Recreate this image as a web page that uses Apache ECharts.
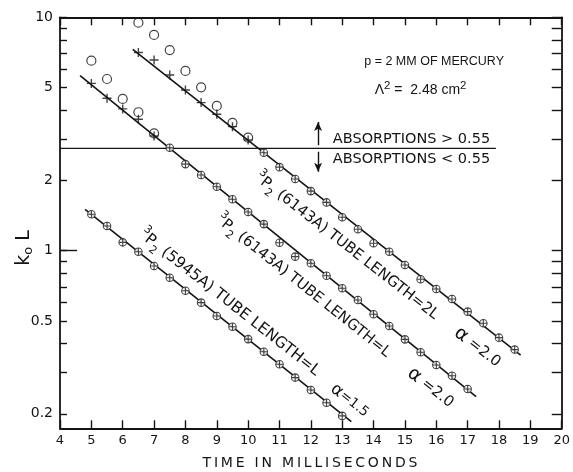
<!DOCTYPE html>
<html><head><meta charset="utf-8">
<script src="https://cdn.jsdelivr.net/npm/echarts@6/dist/echarts.min.js"></script>
<style>html,body{margin:0;padding:0;background:#fff}#c{width:573px;height:472px}</style>
</head><body><div id="c"></div>
<script>
// ---- data ----
const xTicks = [4,5,6,7,8,9,10,11,12,13,14,15,16,17,18,19,20];
const yTickLabels = [0.2, 0.5, 1, 2, 5, 10];
const yMinorTicks = [0.2,0.3,0.4,0.5,0.6,0.7,0.8,0.9,1,2,3,4,5,6,7,8,9,10];
const yMin = 0.1734, yMax = 10;

// 3P2 (6143A) tube length = 2L
const tA = [10.5,11,11.5,12,12.5,13,13.5,14,14.5,15,15.5,16,16.5,17,17.5,18,18.5];
const vA = [2.63,2.28,2.03,1.80,1.61,1.39,1.235,1.076,0.990,0.868,0.754,0.685,0.621,0.548,0.489,0.424,0.377];
const tA_early = [6.5,7,7.5,8,8.5,9,9.5,10];
const vA_open = [9.48,8.40,7.24,5.89,5.01,4.17,3.53,3.05];
const vA_plus = [7.07,6.56,5.66,4.88,4.31,3.84,3.40,2.98];
const fitA_t = [6.32, 18.69];
const fitA_v = [7.29, 0.357];

// 3P2 (6143A) tube length = L
const tB = [7.5,8,8.5,9,9.5,10,10.5,11,11.5,12,12.5,13,13.5,14,14.5,15,15.5,16,16.5,17];
const vB = [2.76,2.35,2.11,1.88,1.66,1.465,1.30,1.082,0.943,0.883,0.781,0.690,0.615,0.534,0.476,0.417,0.367,0.324,0.291,0.2556];
const tB_early = [5,5.5,6,6.5,7];
const vB_open = [6.52,5.44,4.47,3.92,3.18];
const vB_plus = [5.21,4.50,4.05,3.66,3.10];
const fitB_t = [4.64, 17.27];
const fitB_v = [5.62, 0.237];

// 3P2 (5945A) tube length = L
const tC = [5,5.5,6,6.5,7,7.5,8,8.5,9,9.5,10,10.5,11,11.5,12,12.5,13];
const vC = [1.432,1.276,1.086,0.990,0.860,0.766,0.674,0.599,0.525,0.472,0.418,0.369,0.326,0.286,0.253,0.223,0.196];
const fitC_t = [4.80, 13.29];
const fitC_v = [1.504, 0.185];

// absorption threshold line
const thrT = [4, 17.9];
const thrV = 2.746;
const arrowT = 12.23;
const arrowUp = [2.83, 3.56];
const arrowDown = [2.655, 2.18];

// ---- helpers ----
const zip = (t, v) => t.map((x, i) => [x, v[i]]);
const L10 = Math.log10;
const FONT = 'DejaVu Sans';
const INK = '#141414';
const OPLUS = 'path://M0,-10A10,10,0,1,1,0,10A10,10,0,1,1,0,-10ZM-10,0L10,0M0,-10L0,10';
const PLUS = 'path://M-10,0L10,0M0,-10L0,10';

const chart = echarts.init(document.getElementById('c'), null, {renderer: 'canvas'});

function fitLine(t, v) {
  return {type: 'line', xAxisIndex: 0, yAxisIndex: 0, data: zip(t, v), showSymbol: false, silent: true,
    lineStyle: {color: INK, width: 1.6}, z: 2, animation: false};
}
function oplus(t, v) {
  return {type: 'scatter', xAxisIndex: 0, yAxisIndex: 0, data: zip(t, v), symbol: OPLUS, symbolSize: 7.5,
    itemStyle: {color: '#fff', borderColor: INK, borderWidth: 1.1}, z: 4, silent: true};
}
function openC(t, v) {
  return {type: 'scatter', xAxisIndex: 0, yAxisIndex: 0, data: zip(t, v), symbol: 'circle', symbolSize: 9,
    itemStyle: {color: 'rgba(255,255,255,0)', borderColor: INK, borderWidth: 1.2}, z: 4, silent: true};
}
function plus(t, v) {
  return {type: 'scatter', xAxisIndex: 0, yAxisIndex: 0, data: zip(t, v), symbol: PLUS, symbolSize: 9,
    itemStyle: {color: 'none', borderColor: INK, borderWidth: 1.4}, z: 4, silent: true};
}

const logAxisBase = {type: 'value', min: L10(yMin), max: L10(yMax), splitLine: {show: false}};

const option = {
  animation: false,
  backgroundColor: '#fff',
  grid: {left: 60, right: 10.5, top: 17.3, bottom: 43.7, containLabel: false},
  xAxis: [
    {type: 'value', position: 'bottom', min: 4, max: 20, interval: 1,
     axisLine: {onZero: false, lineStyle: {color: INK, width: 1.8}},
     axisTick: {inside: true, length: 8, lineStyle: {color: INK, width: 1.4}},
     axisLabel: {color: INK, fontFamily: FONT, fontSize: 13, margin: 6, showMinLabel: true, showMaxLabel: true},
     splitLine: {show: false}},
    {type: 'value', position: 'top', min: 4, max: 20, interval: 1,
     axisLine: {onZero: false, lineStyle: {color: INK, width: 1.8}},
     axisTick: {inside: true, length: 8, lineStyle: {color: INK, width: 1.4}},
     axisLabel: {show: false}, splitLine: {show: false}}
  ],
  yAxis: [
    {type: 'log', logBase: 10, min: yMin, max: yMax, position: 'left',
     axisLine: {show: true, onZero: false, lineStyle: {color: INK, width: 1.8}},
     axisTick: {show: false}, axisLabel: {show: false}, splitLine: {show: false}, minorTick: {show: false}},
    Object.assign({}, logAxisBase, {position: 'left',
     axisLine: {show: false, onZero: false},
     axisTick: {show: true, inside: true, length: 7, customValues: yMinorTicks.map(L10), lineStyle: {color: INK, width: 1.4}},
     axisLabel: {show: true, customValues: yTickLabels.map(L10), margin: 7, color: INK, fontFamily: FONT, fontSize: 14,
       formatter: v => String(Number(Math.pow(10, v).toPrecision(2)))}}),
    Object.assign({}, logAxisBase, {position: 'left',
     axisLine: {show: false, onZero: false},
     axisTick: {show: true, inside: true, length: 17, customValues: [L10(1)], lineStyle: {color: INK, width: 1.4}},
     axisLabel: {show: false}}),
    Object.assign({}, logAxisBase, {position: 'right',
     axisLine: {show: true, onZero: false, lineStyle: {color: INK, width: 1.8}},
     axisTick: {show: true, inside: true, length: 10, customValues: yMinorTicks.map(L10), lineStyle: {color: INK, width: 1.4}},
     axisLabel: {show: false}})
  ],
  series: [
    fitLine(fitA_t, fitA_v), fitLine(fitB_t, fitB_v), fitLine(fitC_t, fitC_v),
    {type: 'line', xAxisIndex: 0, yAxisIndex: 0, data: thrT.map(t => [t, thrV]), showSymbol: false, silent: true,
     lineStyle: {color: INK, width: 1.3}, z: 2,
     markLine: {silent: true, symbol: ['none', 'arrow'], symbolSize: [6, 9], label: {show: false},
       lineStyle: {color: INK, width: 1.4, type: 'solid'}, animation: false,
       data: [
         [{coord: [arrowT, arrowUp[0]]}, {coord: [arrowT, arrowUp[1]]}],
         [{coord: [arrowT, arrowDown[0]]}, {coord: [arrowT, arrowDown[1]]}]
       ]}},
    oplus(tA, vA), openC(tA_early, vA_open), plus(tA_early, vA_plus),
    oplus(tB, vB), openC(tB_early, vB_open), plus(tB_early, vB_plus),
    oplus(tC, vC)
  ]
};
chart.setOption(option);

// ---- annotations anchored in data coordinates ----
const px = (t, v) => chart.convertToPixel({xAxisIndex: 0, yAxisIndex: 0}, [t, v]);
function richSet(main, sup, alpha) {
  return {
    m: {fontFamily: FONT, fontSize: main, lineHeight: 24, color: INK, verticalAlign: 'middle'},
    sup: {fontFamily: FONT, fontSize: sup, lineHeight: sup, color: INK, verticalAlign: 'top'},
    sub: {fontFamily: FONT, fontSize: sup, lineHeight: sup, color: INK, verticalAlign: 'bottom'},
    a: {fontFamily: FONT, fontSize: alpha, lineHeight: 24, color: INK, verticalAlign: 'middle'}
  };
}
function rotLabel(t, v, deg, text, rich) {
  const p = px(t, v);
  return {type: 'text', x: p[0], y: p[1], rotation: -deg * Math.PI / 180, silent: true, z: 10,
    style: {text: text, rich: rich || richSet(15, 11, 19), fill: INK, align: 'left', verticalAlign: 'middle', font: '15px ' + FONT}};
}
function plainText(t, v, text, align, font) {
  const p = px(t, v);
  return {type: 'text', x: p[0], y: p[1], silent: true, z: 10,
    style: {text: text, fill: INK, align: align, verticalAlign: 'middle', font: font}};
}
const pL = px(15.5, 4.88);
const TS = '\u2009';
const LIB = '"Liberation Sans"';
chart.setOption({graphic: [
  rotLabel(10.27, 2.089, 38, '{sup|3}{m|P}{sub|2}{m| (6143A) TUBE LENGTH=2L}'),
  rotLabel(16.64, 0.453, 38, '{a|α}{m| =2.0}'),
  rotLabel(9.03, 1.381, 38.6, '{sup|3}{m|P}{sub|2}{m| (6143A) TUBE LENGTH=L}'),
  rotLabel(15.15, 0.305, 38.6, '{a|α}{m| =2.0}'),
  rotLabel(6.58, 1.191, 38.3, '{sup|3}{m|P}{sub|2}{m| (5945A) TUBE LENGTH=L}', richSet(15.5, 11, 19)),
  rotLabel(12.69, 0.2606, 38.3, '{a|α}{m|=1.5}', richSet(13.5, 11, 17)),
  plainText(15.93, 6.45, 'p = 2 MM OF MERCURY', 'center', '12.5px ' + LIB),
  {type: 'text', x: pL[0], y: pL[1], silent: true, z: 10,
   style: {text: '{m|Λ}{sup|2}{m| =  2.48 cm}{sup|2}', rich: {
     m: {fontFamily: LIB, fontSize: 14, lineHeight: 20, color: INK, verticalAlign: 'middle'},
     sup: {fontFamily: LIB, fontSize: 11.5, lineHeight: 11.5, color: INK, verticalAlign: 'top'}},
     align: 'center', verticalAlign: 'middle', fill: INK}},
  plainText(12.70, 3.01, 'ABSORPTIONS > 0.55', 'left', '14.5px ' + FONT),
  plainText(12.70, 2.47, 'ABSORPTIONS < 0.55', 'left', '14.5px ' + FONT),
  {type: 'text', x: 310, y: 463, silent: true, z: 10,
   style: {text: 'TIME IN MILLISECONDS'.split('').join(TS), fill: INK, align: 'center', verticalAlign: 'middle', font: '14px ' + FONT}},
  {type: 'text', x: 24, y: 248, rotation: Math.PI / 2, silent: true, z: 10,
   style: {text: '{k|k}{o|o}{k| L}', rich: {
     k: {fontFamily: FONT, fontSize: 19, lineHeight: 22, color: INK, verticalAlign: 'middle'},
     o: {fontFamily: FONT, fontSize: 13, lineHeight: 13, color: INK, verticalAlign: 'bottom'}},
     align: 'center', verticalAlign: 'middle', fill: INK}}
]});
</script>
</body></html>
